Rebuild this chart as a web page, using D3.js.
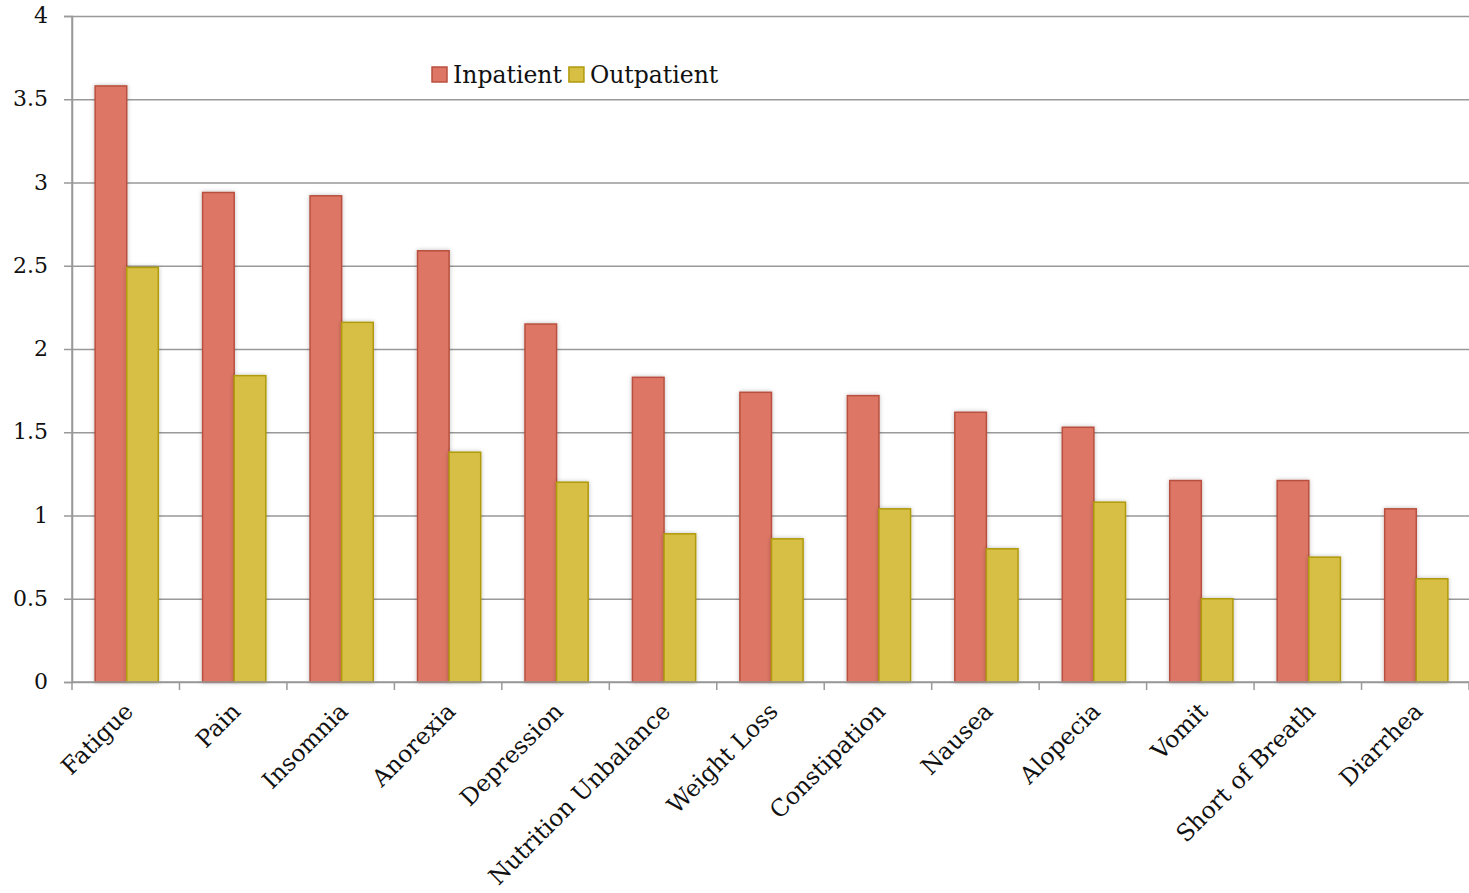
<!DOCTYPE html>
<html lang="en">
<head>
<meta charset="UTF-8">
<title>Symptom scores: Inpatient vs Outpatient</title>
<script src="https://d3js.org/d3.v7.min.js"></script>
<style>
    body { margin: 0; background: #fff; }
    svg text { font-family: Georgia, "DejaVu Serif", serif; fill: #111; }
    .grid line { stroke: #999; stroke-width: 1.5; }
    .grid path { display: none; }
    .axis path, .axis line { stroke: #999; stroke-width: 1.5; }
</style>
</head>
<body>
<div id="chart"></div>
<script>
// data
const categories = ["Fatigue", "Pain", "Insomnia", "Anorexia", "Depression", "Nutrition Unbalance",
    "Weight Loss", "Constipation", "Nausea", "Alopecia", "Vomit", "Short of Breath", "Diarrhea"];
const inpatient  = [3.58, 2.94, 2.92, 2.59, 2.15, 1.83, 1.74, 1.72, 1.62, 1.53, 1.21, 1.21, 1.04];
const outpatient = [2.49, 1.84, 2.16, 1.38, 1.20, 0.89, 0.86, 1.04, 0.80, 1.08, 0.50, 0.75, 0.62];
const seriesNames = ["Inpatient", "Outpatient"];
const yTicks = [0, 0.5, 1, 1.5, 2, 2.5, 3, 3.5, 4];

const fills   = ["#dd7665", "#d7bf44"];
const strokes = ["#b9503f", "#b09a0c"];

const W = 1469, H = 893;
const margin = {top: 16, right: 0, bottom: 211, left: 72};
const width = W - margin.left - margin.right;
const height = H - margin.top - margin.bottom;

const svg = d3.select("#chart").append("svg")
    .attr("width", W).attr("height", H);

const defs = svg.append("defs");
const shadow = defs.append("filter").attr("id", "shadow")
    .attr("x", "-20%").attr("y", "-5%").attr("width", "140%").attr("height", "110%");
shadow.append("feDropShadow").attr("dx", 0).attr("dy", 0).attr("stdDeviation", 2)
    .attr("flood-color", "#000").attr("flood-opacity", 0.25);

const g = svg.append("g").attr("transform", `translate(${margin.left},${margin.top})`);

const x = d3.scaleBand().domain(categories).range([0, width]).paddingInner(0).paddingOuter(0);
const x1 = d3.scaleBand().domain(seriesNames).range([0, x.bandwidth()]).paddingOuter(0.7).paddingInner(0);
const y = d3.scaleLinear().domain([0, 4]).range([height, 0]);

// horizontal grid
g.append("g").attr("class", "grid")
    .call(d3.axisLeft(y).tickValues(yTicks).tickSize(-width).tickFormat(""));

// y axis
const yAxis = g.append("g").attr("class", "axis")
    .call(d3.axisLeft(y).tickValues(yTicks).tickSize(8).tickPadding(16)
        .tickFormat(d => d === 0 ? "0" : d3.format("")(d)));
yAxis.selectAll("text").style("font-size", "22px").attr("dy", "0.3em");

// bars
const data = categories.map((c, i) => ({cat: c, vals: [inpatient[i], outpatient[i]]}));
const groups = g.append("g").selectAll("g").data(data).join("g")
    .attr("transform", d => `translate(${x(d.cat) + 1},0)`);
groups.selectAll("rect")
    .data(d => d.vals.map((v, j) => ({name: seriesNames[j], v, j})))
    .join("rect")
    .attr("x", d => x1(d.name))
    .attr("width", x1.bandwidth())
    .attr("y", d => y(d.v))
    .attr("height", d => y(0) - y(d.v))
    .attr("fill", d => fills[d.j])
    .attr("stroke", d => strokes[d.j])
    .attr("stroke-width", 1.5)
    .attr("filter", "url(#shadow)");

// x axis with ticks at category boundaries
const boundaries = d3.range(categories.length + 1).map(i => i * x.bandwidth());
const xAxis = g.append("g").attr("class", "axis").attr("transform", `translate(0,${height})`);
xAxis.append("line").attr("x1", 0).attr("x2", width).attr("y1", 0).attr("y2", 0);
xAxis.selectAll(".tk").data(boundaries).join("line").attr("class", "tk")
    .attr("x1", d => d).attr("x2", d => d).attr("y1", 0).attr("y2", 8);
g.append("line").attr("class", "axis")
    .attr("x1", 0).attr("x2", 0).attr("y1", 0).attr("y2", height)
    .attr("stroke", "#999").attr("stroke-width", 1.5);

xAxis.selectAll(".lbl").data(categories).join("text").attr("class", "lbl")
    .attr("transform", d => `translate(${x(d) + x.bandwidth() / 2 + 3},${25}) rotate(-45)`)
    .attr("text-anchor", "end")
    .attr("dy", "0.35em")
    .style("font-size", "23.5px")
    .text(d => d);

// legend
const legend = svg.append("g").attr("transform", "translate(432,67)");
let lx = 0;
seriesNames.forEach((name, j) => {
    const item = legend.append("g").attr("transform", `translate(${lx},0)`);
    item.append("rect").attr("width", 15).attr("height", 15)
        .attr("fill", fills[j]).attr("stroke", strokes[j]).attr("stroke-width", 1.5);
    const t = item.append("text").attr("x", 21).attr("y", 16)
        .style("font-size", "23.5px").text(name);
    lx += 21 + t.node().getComputedTextLength() + 7;
});
</script>
</body>
</html>
